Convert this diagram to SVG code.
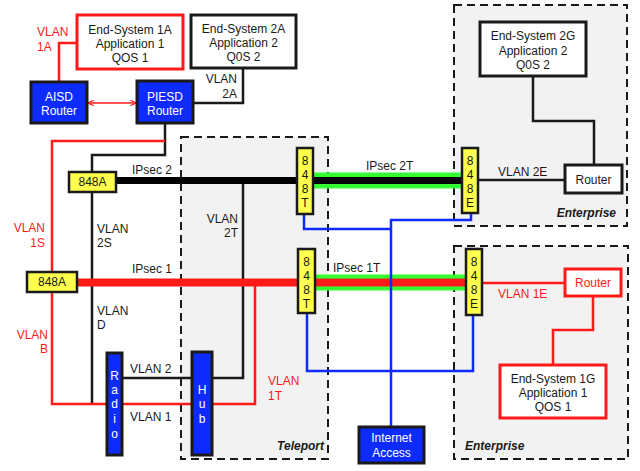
<svg xmlns="http://www.w3.org/2000/svg" width="640" height="471" viewBox="0 0 640 471">
<defs>
<style>
text{font-family:"Liberation Sans",Arial,sans-serif;font-size:12px;fill:#1a1a1a}
.c{text-anchor:middle}
.r{text-anchor:end}
.w{fill:#ffffff}
.red{fill:#ff1a1a}
.zone{fill:#f2f2f2;stroke:#1a1a1a;stroke-width:2;stroke-dasharray:8 5}
.zl{font-weight:bold;font-style:italic}
.wb{fill:#ffffff;stroke:#1a1a1a;stroke-width:3}
.rb{fill:#ffffff;stroke:#ff1a1a;stroke-width:3}
.bb{fill:#0d2bff;stroke:#1a1a1a;stroke-width:3}
.yb{fill:#ffff4d;stroke:#1a1a1a;stroke-width:2.5}
.k{fill:none;stroke:#1a1a1a;stroke-width:2.5}
.rl{fill:none;stroke:#ff1a1a;stroke-width:2.5}
.bl{fill:none;stroke:#0d2bff;stroke-width:2.5}
.g{fill:none;stroke:#33ff33;stroke-width:16}
</style>
<marker id="ah" viewBox="0 0 10 10" refX="9" refY="5" markerWidth="7" markerHeight="7" orient="auto-start-reverse" markerUnits="userSpaceOnUse">
<path d="M1,1 L9,5 L1,9" fill="none" stroke="#ff1a1a" stroke-width="1.6"/>
</marker>
</defs>
<rect width="640" height="471" fill="#ffffff"/>

<g id="zones">
<rect class="zone" x="181" y="137" width="147" height="322"/>
<text class="zl r" x="324" y="450">Teleport</text>
<rect class="zone" x="454" y="5" width="173" height="221"/>
<text class="zl r" x="616" y="217">Enterprise</text>
<rect class="zone" x="454" y="246" width="174" height="213"/>
<text class="zl" x="465" y="450">Enterprise</text>
</g>

<g id="connectors">
<path class="rl" d="M59,82 V43 H77" stroke-width="3"/>
<path class="k" d="M243,68 V103 H193"/>
<line x1="88" y1="103" x2="136" y2="103" stroke="#ff1a1a" stroke-width="1.6" marker-start="url(#ah)" marker-end="url(#ah)"/>
<path class="k" d="M165,123 V155 H92 V404"/>
<path class="rl" d="M165,141 H52 V404 H107"/>
<path class="k" d="M243,181 V378 H212"/>
<path class="rl" d="M255,283 V404 H212"/>
<path class="k" d="M122,378 H192"/>
<path class="rl" d="M122,404 H192"/>
<path class="g" d="M313,180.5 H462"/>
<path class="g" d="M315,282.5 H466" stroke-width="15"/>
<path fill="none" stroke="#000000" stroke-width="7" d="M116,180.5 H462"/>
<path fill="none" stroke="#ff1a1a" stroke-width="8" d="M77,282.5 H466"/>
<path class="k" d="M478,180 H565" stroke-width="2"/>
<path class="k" d="M533,76 V121 H594 V165"/>
<path class="rl" d="M482,283 H565" stroke-width="2"/>
<path class="rl" d="M593,296 V330 H553 V365" stroke-width="3"/>
<path class="bl" d="M304,214 V229 H391"/>
<path class="bl" d="M471,213 V220 H391 V427"/>
<path class="bl" d="M307,313 V371 H473 V315"/>
</g>

<g id="labels">
<text class="red" x="37" y="36">VLAN</text>
<text class="red" x="37" y="51">1A</text>
<text class="r" x="237" y="83">VLAN</text>
<text class="r" x="237" y="98">2A</text>
<text x="132" y="174">IPsec 2</text>
<text class="red r" x="45" y="232">VLAN</text>
<text class="red r" x="45" y="247">1S</text>
<text x="97" y="233">VLAN</text>
<text x="97" y="247">2S</text>
<text class="r" x="238" y="223">VLAN</text>
<text class="r" x="238" y="237">2T</text>
<text x="132" y="273">IPsec 1</text>
<text x="97" y="315">VLAN</text>
<text x="97" y="329">D</text>
<text class="red r" x="48" y="339">VLAN</text>
<text class="red r" x="48" y="353">B</text>
<text x="130" y="373">VLAN 2</text>
<text x="130" y="421">VLAN 1</text>
<text class="red" x="268" y="385">VLAN</text>
<text class="red" x="268" y="400">1T</text>
<text x="366" y="170">IPsec 2T</text>
<text x="333" y="272">IPsec 1T</text>
<text x="498" y="176">VLAN 2E</text>
<text class="red" x="498" y="298">VLAN 1E</text>
</g>

<g id="es1a">
<rect class="rb" x="77" y="15" width="106" height="54"/>
<text class="c" x="130" y="34">End-System 1A</text>
<text class="c" x="130" y="48">Application 1</text>
<text class="c" x="130" y="62">QOS 1</text>
</g>
<g id="es2a">
<rect class="wb" x="191" y="15" width="105" height="53"/>
<text class="c" x="243.5" y="33">End-System 2A</text>
<text class="c" x="243.5" y="47">Application 2</text>
<text class="c" x="243.5" y="61">Q0S 2</text>
</g>
<g id="aisd">
<rect class="bb" x="31" y="82" width="56" height="41"/>
<text class="c w" x="59" y="101">AISD</text>
<text class="c w" x="59" y="115">Router</text>
</g>
<g id="piesd">
<rect class="bb" x="137" y="81" width="56" height="42"/>
<text class="c w" x="165" y="101">PIESD</text>
<text class="c w" x="165" y="115">Router</text>
</g>
<g id="es2g">
<rect class="wb" x="480" y="22" width="106" height="54"/>
<text class="c" x="533" y="40">End-System 2G</text>
<text class="c" x="533" y="55">Application 2</text>
<text class="c" x="533" y="69">Q0S 2</text>
</g>
<g id="router2">
<rect class="wb" x="565" y="165" width="57" height="28"/>
<text class="c" x="593.5" y="184">Router</text>
</g>
<g id="router1">
<rect class="rb" x="565" y="269" width="56" height="27"/>
<text class="c red" x="593" y="287">Router</text>
</g>
<g id="es1g">
<rect class="rb" x="500" y="365" width="106" height="53"/>
<text class="c" x="553" y="383">End-System 1G</text>
<text class="c" x="553" y="397">Application 1</text>
<text class="c" x="553" y="411">QOS 1</text>
</g>
<g id="internet">
<rect class="bb" x="359" y="427" width="65" height="36"/>
<text class="c w" x="391.5" y="442">Internet</text>
<text class="c w" x="391.5" y="457">Access</text>
</g>
<g id="a848-2">
<rect class="yb" x="69" y="172" width="47" height="20"/>
<text class="c" x="92.5" y="186">848A</text>
</g>
<g id="a848-1">
<rect class="yb" x="27" y="272" width="50" height="20"/>
<text class="c" x="52" y="286">848A</text>
</g>
<g id="t848-2">
<rect class="yb" x="297" y="148" width="16" height="66"/>
<text class="c" x="305" y="165">8</text>
<text class="c" x="305" y="179">4</text>
<text class="c" x="305" y="193">8</text>
<text class="c" x="305" y="207">T</text>
</g>
<g id="e848-2">
<rect class="yb" x="462" y="148" width="16" height="65"/>
<text class="c" x="470" y="165">8</text>
<text class="c" x="470" y="179">4</text>
<text class="c" x="470" y="193">8</text>
<text class="c" x="470" y="207">E</text>
</g>
<g id="t848-1">
<rect class="yb" x="298" y="249" width="17" height="64"/>
<text class="c" x="306.5" y="266">8</text>
<text class="c" x="306.5" y="280">4</text>
<text class="c" x="306.5" y="294">8</text>
<text class="c" x="306.5" y="308">T</text>
</g>
<g id="e848-1">
<rect class="yb" x="466" y="249" width="16" height="66"/>
<text class="c" x="474" y="266">8</text>
<text class="c" x="474" y="280">4</text>
<text class="c" x="474" y="294">8</text>
<text class="c" x="474" y="308">E</text>
</g>
<g id="radio">
<rect class="bb" x="107" y="353" width="15" height="102"/>
<text class="c w" x="114.5" y="380">R</text>
<text class="c w" x="114.5" y="394">a</text>
<text class="c w" x="114.5" y="408">d</text>
<text class="c w" x="114.5" y="423">i</text>
<text class="c w" x="114.5" y="438">o</text>
</g>
<g id="hub">
<rect class="bb" x="192" y="352" width="20" height="103"/>
<text class="c w" x="202" y="394">H</text>
<text class="c w" x="202" y="408">u</text>
<text class="c w" x="202" y="423">b</text>
</g>
</svg>
